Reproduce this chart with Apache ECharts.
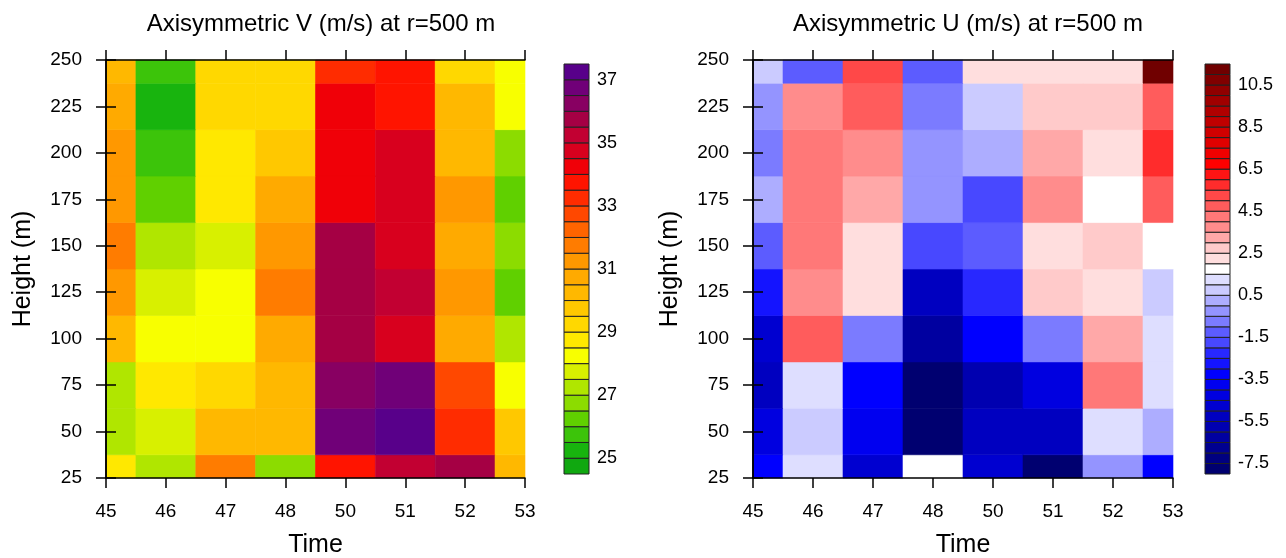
<!DOCTYPE html>
<html>
<head>
<meta charset="utf-8">
<script src="https://cdn.jsdelivr.net/npm/echarts@6/dist/echarts.min.js"></script>
<style>
  html, body { margin: 0; padding: 0; background: #fff; }
  #chart { width: 1286px; height: 558px; }
</style>
</head>
<body>
<div id="chart"></div>
<script>
  // x categories (time) and y levels (height, m)
  const times = ['45', '46', '47', '48', '50', '51', '52', '53'];
  const heights = [25, 50, 75, 100, 125, 150, 175, 200, 225, 250];

  // contour levels of the two colour bars
  const vLevels = [25, 25.5, 26, 26.5, 27, 27.5, 28, 28.5, 29, 29.5, 30, 30.5, 31,
    31.5, 32, 32.5, 33, 33.5, 34, 34.5, 35, 35.5, 36, 36.5, 37];
  const uLevels = [-7.5, -7, -6.5, -6, -5.5, -5, -4.5, -4, -3.5, -3, -2.5, -2, -1.5,
    -1, -0.5, 0, 0.5, 1, 1.5, 2, 2.5, 3, 3.5, 4, 4.5, 5, 5.5, 6, 6.5, 7, 7.5, 8,
    8.5, 9, 9.5, 10, 10.5, 11];

  // Axisymmetric V, one row per height (bottom 25 m -> top 250 m), one value per time
  const vRows = [
    [28.8, 27.3, 31.9, 26.6, 33.6, 35.2, 35.9, 30.4],
    [27.1, 27.7, 30.1, 30.3, 36.8, 37.3, 33.3, 29.6],
    [27.4, 28.7, 29.4, 30.4, 36.2, 36.7, 32.8, 28.2],
    [30.2, 28.4, 28.3, 30.9, 35.6, 34.6, 30.7, 27.2],
    [31.2, 27.6, 28.1, 31.7, 35.8, 35.3, 31.3, 26.1],
    [31.8, 27.3, 27.8, 31.4, 35.7, 34.9, 30.6, 26.7],
    [31.3, 26.3, 28.6, 30.8, 34.1, 34.7, 31.1, 26.2],
    [31.2, 25.7, 28.9, 29.8, 34.2, 34.8, 30.3, 26.8],
    [30.7, 25.3, 29.4, 29.3, 34.3, 33.7, 30.1, 28.2],
    [30.2, 25.8, 29.3, 29.2, 33.2, 33.8, 29.1, 28.3]
  ];

  // Axisymmetric U, same layout
  const uRows = [
    [-3.2, 1.3, -4.7, 1.6, -4.6, -7.6, -0.4, -3.3],
    [-4.3, 0.6, -3.6, -7.9, -5.4, -5.2, 1.1, 0.4],
    [-5.1, 1.2, -3.1, -7.8, -5.6, -4.1, 4.1, 1.4],
    [-4.8, 4.9, -0.9, -6.2, -3.3, -0.6, 3.4, 1.3],
    [-2.7, 3.8, 2.1, -5.3, -2.3, 2.9, 2.4, 0.9],
    [-1.4, 4.4, 2.2, -1.7, -1.2, 2.3, 2.6, 1.7],
    [0.3, 4.2, 3.3, -0.3, -1.8, 3.6, 1.8, 4.8],
    [-0.7, 4.3, 3.8, -0.2, 0.2, 3.2, 2.4, 5.8],
    [-0.3, 3.7, 4.8, -0.8, 0.7, 2.7, 2.8, 4.7],
    [0.8, -1.2, 5.3, -1.3, 2.3, 2.2, 2.3, 11.3]
  ];

  // colours, low -> high (one more than the number of levels)
  const vColors = ['#10a810', '#18b40e', '#3cc40a', '#60d000', '#8cdc00', '#b0e600',
    '#d8f000', '#f8ff00', '#ffe800', '#ffd800', '#ffc800', '#ffb800', '#ffaa00',
    '#ff9800', '#ff7c00', '#ff6400', '#ff4800', '#ff2c00', '#ff1400', '#f00008',
    '#d8001e', '#c20032', '#a50044', '#880062', '#700078', '#58008a'];
  const uColors = ['#000070', '#000080', '#000090', '#0000a0', '#0000b0', '#0000c0',
    '#0000d0', '#0000e0', '#0000f0', '#0000ff', '#1414ff', '#2828ff', '#4848ff',
    '#5c5cff', '#7b7bff', '#9494ff', '#adadff', '#cbcbff', '#dedeff', '#ffffff',
    '#ffdede', '#ffcaca', '#ffa8a8', '#ff8c8c', '#ff7878', '#ff5c5c', '#ff4848',
    '#ff2c2c', '#ff1414', '#ff0000', '#f00000', '#e00000', '#d00000', '#c00000',
    '#b00000', '#a00000', '#900000', '#800000', '#700000'];

  const font = 'Liberation Sans, Arial, Helvetica, sans-serif';
  const halfH = (heights[1] - heights[0]) / 2;

  function cells(rows) {
    const out = [];
    rows.forEach((row, r) => row.forEach((v, i) => out.push([i, heights[r], v])));
    return out;
  }

  function boxes(levels) {
    const step = levels[1] - levels[0];
    const out = [];
    for (let k = 0; k <= levels.length; k++) {
      const lo = k === 0 ? levels[0] - step : levels[k - 1];
      const hi = k === levels.length ? levels[levels.length - 1] + step : levels[k];
      out.push([lo, hi, (lo + hi) / 2]);
    }
    return out;
  }

  function pieces(levels, colors) {
    const out = [{ lt: levels[0], color: colors[0] }];
    for (let k = 1; k < levels.length; k++) {
      out.push({ gte: levels[k - 1], lt: levels[k], color: colors[k] });
    }
    out.push({ gte: levels[levels.length - 1], color: colors[levels.length] });
    return out;
  }

  function renderCell(params, api) {
    const i = api.value(0);
    const h = api.value(1);
    const p0 = api.coord([i - 0.5, h + halfH]);
    const p1 = api.coord([i + 0.5, h - halfH]);
    const cs = params.coordSys;
    const shape = echarts.graphic.clipRectByRect(
      { x: p0[0], y: p0[1], width: p1[0] - p0[0], height: p1[1] - p0[1] },
      { x: cs.x, y: cs.y, width: cs.width, height: cs.height }
    );
    if (!shape) return;
    const c = api.visual('color');
    return { type: 'rect', shape: shape, style: { fill: c, stroke: c, lineWidth: 0.6 } };
  }

  function renderBox(params, api) {
    const p0 = api.coord([0, api.value(1)]);
    const p1 = api.coord([1, api.value(0)]);
    return {
      type: 'rect',
      shape: { x: p0[0], y: p0[1], width: p1[0] - p0[0], height: p1[1] - p0[1] },
      style: { fill: api.visual('color'), stroke: '#222', lineWidth: 1 }
    };
  }

  function barLabel(first, last) {
    return function (v) {
      const t = (v - first) / 2;
      if (Math.abs(t - Math.round(t)) > 1e-6 || v < first - 1e-6 || v > last + 1e-6) return '';
      return String(Number(v.toFixed(2)));
    };
  }

  const lineStyle = { color: '#000', width: 1.5 };
  const tickStyle = { length: 10, lineStyle: { color: '#000', width: 1.5 } };
  const labelStyle = { color: '#000', fontSize: 19, fontFamily: font };
  const nameStyle = { color: '#000', fontSize: 25, fontFamily: font };

  function timeAxis(gridIndex, position) {
    const bottom = position === 'bottom';
    return {
      gridIndex: gridIndex, type: 'value', position: position, min: 0, max: times.length - 1, interval: 1,
      axisLine: { lineStyle: lineStyle }, axisTick: tickStyle, splitLine: { show: false },
      axisLabel: bottom ? Object.assign({ margin: 24, formatter: v => times[v] || '' }, labelStyle) : { show: false },
      name: bottom ? 'Time' : '', nameLocation: 'middle', nameGap: 55, nameTextStyle: nameStyle, z: 5
    };
  }

  function heightAxis(gridIndex, position) {
    const left = position === 'left';
    return {
      gridIndex: gridIndex, type: 'value', position: position,
      min: heights[0], max: heights[heights.length - 1], interval: heights[1] - heights[0],
      axisLine: { lineStyle: lineStyle }, axisTick: tickStyle, splitLine: { show: false },
      axisLabel: left ? Object.assign({ margin: 24 }, labelStyle) : { show: false },
      name: left ? 'Height (m)' : '', nameLocation: 'middle', nameGap: 70, nameTextStyle: nameStyle, z: 5
    };
  }

  function barXAxis(gridIndex) {
    return { gridIndex: gridIndex, type: 'value', min: 0, max: 1, show: false };
  }

  function barYAxis(gridIndex, levels, first, last) {
    const step = levels[1] - levels[0];
    return {
      gridIndex: gridIndex, type: 'value', position: 'right',
      min: levels[0] - step, max: levels[levels.length - 1] + step, interval: step,
      axisLine: { show: false }, axisTick: { show: false }, splitLine: { show: false },
      axisLabel: { margin: 8, color: '#000', fontSize: 18, fontFamily: font, formatter: barLabel(first, last) }
    };
  }

  const chart = echarts.init(document.getElementById('chart'), null, { renderer: 'canvas' });

  chart.setOption({
    backgroundColor: '#fff',
    animation: false,
    title: [
      { text: 'Axisymmetric V (m/s) at r=500 m', left: 316, top: 7, textAlign: 'center',
        textStyle: { fontSize: 24, fontWeight: 'normal', color: '#000', fontFamily: font } },
      { text: 'Axisymmetric U (m/s) at r=500 m', left: 963, top: 7, textAlign: 'center',
        textStyle: { fontSize: 24, fontWeight: 'normal', color: '#000', fontFamily: font } }
    ],
    grid: [
      { left: 106, top: 60, width: 419, height: 418, outerBoundsMode: 'none', containLabel: false },
      { left: 564, top: 64, width: 25, height: 410, outerBoundsMode: 'none', containLabel: false },
      { left: 753, top: 60, width: 420, height: 418, outerBoundsMode: 'none', containLabel: false },
      { left: 1205, top: 64, width: 25, height: 410, outerBoundsMode: 'none', containLabel: false }
    ],
    xAxis: [
      timeAxis(0, 'bottom'), timeAxis(0, 'top'), barXAxis(1),
      timeAxis(2, 'bottom'), timeAxis(2, 'top'), barXAxis(3)
    ],
    yAxis: [
      heightAxis(0, 'left'), heightAxis(0, 'right'), barYAxis(1, vLevels, 25, 37),
      heightAxis(2, 'left'), heightAxis(2, 'right'), barYAxis(3, uLevels, -7.5, 10.5)
    ],
    visualMap: [
      { type: 'piecewise', show: false, dimension: 2, seriesIndex: [0, 1], pieces: pieces(vLevels, vColors) },
      { type: 'piecewise', show: false, dimension: 2, seriesIndex: [2, 3], pieces: pieces(uLevels, uColors) }
    ],
    series: [
      { type: 'custom', name: 'V', xAxisIndex: 0, yAxisIndex: 0, renderItem: renderCell, data: cells(vRows) },
      { type: 'custom', name: 'V bar', xAxisIndex: 2, yAxisIndex: 2, renderItem: renderBox, data: boxes(vLevels) },
      { type: 'custom', name: 'U', xAxisIndex: 3, yAxisIndex: 3, renderItem: renderCell, data: cells(uRows) },
      { type: 'custom', name: 'U bar', xAxisIndex: 5, yAxisIndex: 5, renderItem: renderBox, data: boxes(uLevels) }
    ]
  });
</script>
</body>
</html>
